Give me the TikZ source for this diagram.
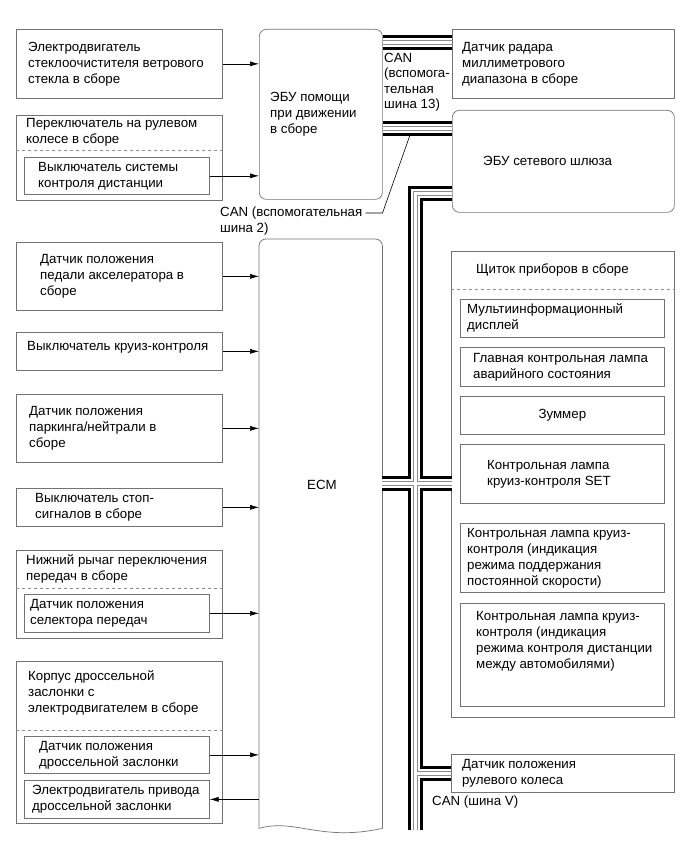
\documentclass[tikz,border=0pt]{standalone}
\usepackage{fontspec}
\setmainfont{Liberation Sans}
\usepackage{tikz}
\usetikzlibrary{positioning}
\usetikzlibrary{arrows.meta}

\tikzset{
  box/.style={draw=black!55, line width=0.7pt, inner sep=0pt, anchor=north west},
  ecu/.style={box, rounded corners=7pt},
  txt/.style={inner sep=0pt, align=left, font=\fontsize{13.3}{16}\selectfont},
  sig/.style={line width=0.6pt, -{Latex[length=9pt,width=5pt]}},
  sep/.style={draw=black!45, dashed, line width=0.6pt},
}

\begin{document}
\begin{tikzpicture}[x=1pt, y=-1pt]
\useasboundingbox (0,0) rectangle (690,853);

% ECUs
\node[ecu, minimum width=123pt, minimum height=170pt] (adas) at (259,29) {};
\node[txt, right=11pt of adas.west] (adastxt) {ЭБУ помощи\\при движении\\в сборе};
\node[inner sep=0pt, anchor=north west, minimum width=123pt, minimum height=589pt] (ecm) at (259,239) {};
\draw[draw=black!55, line width=0.7pt, rounded corners=7pt] (ecm.south west) -- (ecm.north west) -- (ecm.north east) -- (ecm.south east);
\draw[draw=black!55, line width=0.7pt] (ecm.south west) .. controls (295,818) and (320,842) .. (ecm.south east);
\node[txt] (ecmtxt) at (322,485) {ECM};
\node[ecu, minimum width=222pt, minimum height=102pt] (gw) at (452,110) {};
\node[txt, right=31pt of gw.west] (gwtxt) {ЭБУ сетевого шлюза};

% left side
\node[box, minimum width=206pt, minimum height=69pt] (wiper) at (16,29) {};
\node[txt, right=12pt of wiper.west] (wipertxt) {Электродвигатель\\стеклоочистителя ветрового\\стекла в сборе};
\node[box, minimum width=206pt, minimum height=85pt] (swsw) at (16,115) {};
\node[txt, below right=3pt and 10pt of swsw.north west] (swswtxt) {Переключатель на рулевом\\колесе в сборе};
\draw[sep] ([yshift=-35pt]swsw.north west) -- ([yshift=-35pt]swsw.north east);
\node[box, minimum width=185pt, minimum height=37pt] (distsw) at (24,157) {};
\node[txt, right=14pt of distsw.west] (distswtxt) {Выключатель системы\\контроля дистанции};

\node[box, minimum width=206pt, minimum height=68pt] (accel) at (16,242) {};
\node[txt, right=24pt of accel.west] (acceltxt) {Датчик положения\\педали акселератора в\\сборе};
\node[box, minimum width=206pt, minimum height=38pt] (cruise) at (16,332) {};
\node[txt, right=11pt of cruise.west, yshift=4pt] (cruisetxt) {Выключатель круиз-контроля};
\node[box, minimum width=206pt, minimum height=68pt] (park) at (16,394) {};
\node[txt, right=13pt of park.west] (parktxt) {Датчик положения\\паркинга/нейтрали в\\сборе};
\node[box, minimum width=206pt, minimum height=38pt] (stop) at (16,488) {};
\node[txt, right=19pt of stop.west] (stoptxt) {Выключатель стоп-\\сигналов в сборе};

\node[box, minimum width=206pt, minimum height=88pt] (shift) at (16,550) {};
\node[txt, below right=4pt and 10pt of shift.north west] (shifttxt) {Нижний рычаг переключения\\передач в сборе};
\draw[sep] ([yshift=-38pt]shift.north west) -- ([yshift=-38pt]shift.north east);
\node[box, minimum width=185pt, minimum height=38pt] (gsel) at (24,594) {};
\node[txt, right=6pt of gsel.west] (gseltxt) {Датчик положения\\селектора передач};

\node[box, minimum width=206pt, minimum height=162pt] (thr) at (16,661) {};
\node[txt, below right=9pt and 12pt of thr.north west] (thrtxt) {Корпус дроссельной\\заслонки с\\электродвигателем в сборе};
\draw[sep] ([yshift=-69pt]thr.north west) -- ([yshift=-69pt]thr.north east);
\node[box, minimum width=185pt, minimum height=37pt] (tps) at (24,736) {};
\node[txt, right=15pt of tps.west] (tpstxt) {Датчик положения\\дроссельной заслонки};
\node[box, minimum width=185pt, minimum height=38pt] (tmot) at (24,780) {};
\node[txt, right=8pt of tmot.west] (tmottxt) {Электродвигатель привода\\дроссельной заслонки};

% right side
\node[box, minimum width=222pt, minimum height=69pt] (radar) at (452,29) {};
\node[txt, right=10pt of radar.west] (radartxt) {Датчик радара\\миллиметрового\\диапазона в сборе};

\node[box, minimum width=223pt, minimum height=466pt] (meter) at (451,251) {};
\node[txt, below right=13pt and 25pt of meter.north west] (metertxt) {Щиток приборов в сборе};
\draw[sep] ([yshift=-38pt]meter.north west) -- ([yshift=-38pt]meter.north east);
\node[box, minimum width=204pt, minimum height=38pt] (mid) at (460,299) {};
\node[txt, right=7pt of mid.west] (midtxt) {Мультиинформационный\\дисплей};
\node[box, minimum width=204pt, minimum height=39pt] (mil) at (460,347) {};
\node[txt, right=13pt of mil.west] (miltxt) {Главная контрольная лампа\\аварийного состояния};
\node[box, minimum width=204pt, minimum height=38pt] (buzz) at (460,396) {};
\node[txt] (buzztxt) at (buzz.center) {Зуммер};
\node[box, minimum width=204pt, minimum height=59pt] (setl) at (460,444) {};
\node[txt, right=27pt of setl.west] (setltxt) {Контрольная лампа\\круиз-контроля SET};
\node[box, minimum width=204pt, minimum height=69pt] (ccl) at (460,523) {};
\node[txt, right=7pt of ccl.west] (ccltxt) {Контрольная лампа круиз-\\контроля (индикация\\режима поддержания\\постоянной скорости)};
\node[box, minimum width=204pt, minimum height=103pt] (accl) at (460,603) {};
\node[txt, below right=8pt and 16pt of accl.north west] (accltxt) {Контрольная лампа круиз-\\контроля (индикация\\режима контроля дистанции\\между автомобилями)};

\node[box, minimum width=223pt, minimum height=38pt] (steer) at (451,754) {};
\node[txt, right=11pt of steer.west] (steertxt) {Датчик положения\\рулевого колеса};

% inputs / outputs
\draw[sig] (wiper.east) -- (wiper.east -| adas.west);
\draw[sig] (distsw.east) -- (distsw.east -| adas.west);
\draw[sig] (accel.east) -- (accel.east -| ecm.west);
\draw[sig] (cruise.east) -- (cruise.east -| ecm.west);
\draw[sig] (park.east) -- (park.east -| ecm.west);
\draw[sig] (stop.east) -- (stop.east -| ecm.west);
\draw[sig] (gsel.east) -- (gsel.east -| ecm.west);
\draw[sig] (tps.east) -- (tps.east -| ecm.west);
\draw[sig] (tmot.east -| ecm.west) -- (tmot.east);

% CAN
\coordinate (b1) at (452,43);
\coordinate (b2) at (452,129);
\coordinate (b3) at (452,193);
\coordinate (b4) at (452,483);
\coordinate (busend) at (415,830);
\foreach \w/\col in {15/black,9/white,5/black!45,3/white}{
  \draw[line width=\w pt, draw=\col] (b1 -| adas.east) -- (b1)
    (b2 -| adas.east) -- (b2)
    (b3) -| (busend)
    (b4 -| ecm.east) -- (b4)
    (busend |- steer.west) -- (steer.west);
}

\node[txt, anchor=north west, font=\fontsize{13.3}{15.5}\selectfont] (can13) at (384,53) {CAN\\(вспомога-\\тельная\\шина 13)};
\node[txt, anchor=north west] (can2) at (220,207) {CAN (вспомогательная\\шина 2)};
\coordinate (can2tap) at (410,135);
\draw[line width=0.6pt] ([shift={(3,6)}]can2.north east) -- ++(17,0) -- (can2tap);
\node[txt, anchor=west] (canv) at (432,802) {CAN (шина V)};
\end{tikzpicture}
\end{document}
